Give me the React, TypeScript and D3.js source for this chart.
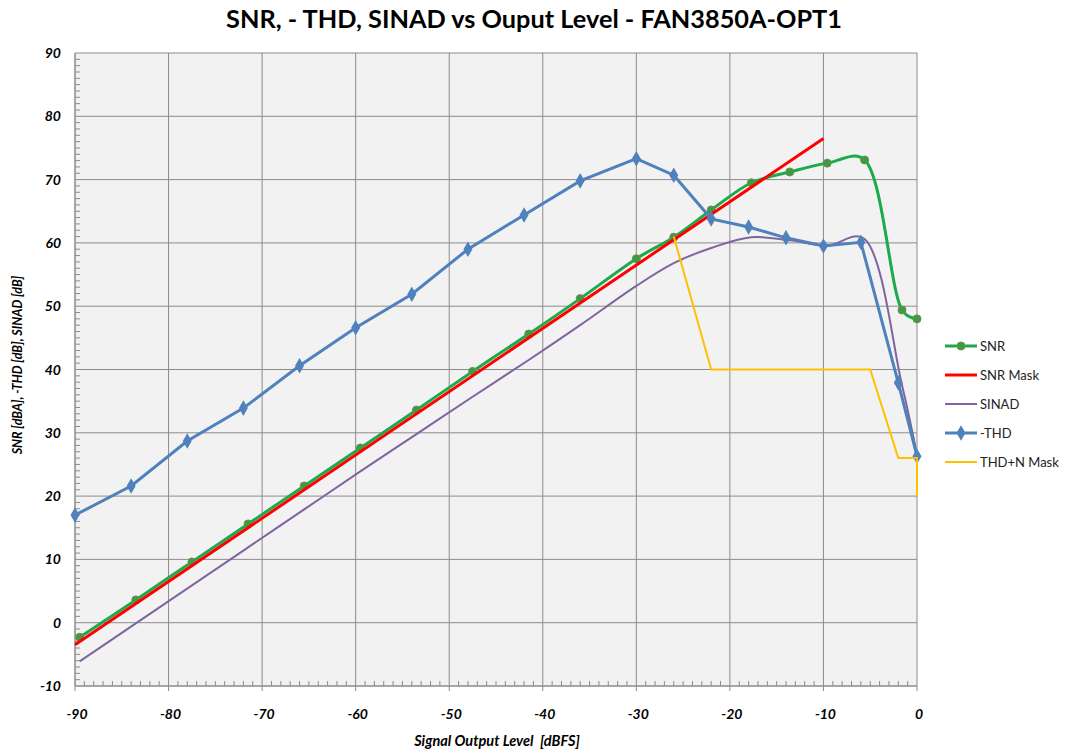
import React from "react";
import * as d3 from "d3";

// SNR (dBA) measured points
const snrX = [-89.5, -83.5, -77.5, -71.5, -65.5, -59.5, -53.5, -47.5, -41.5, -36, -30, -26, -22, -17.7, -13.6, -9.6, -5.6, -1.6, 0];
const snrY = [-2.3, 3.6, 9.6, 15.6, 21.6, 27.6, 33.6, 39.7, 45.6, 51.2, 57.5, 60.9, 65.2, 69.5, 71.2, 72.6, 73.1, 49.4, 48];

// SINAD, same x as SNR
const sinadY = [-6.1, -0.1, 5.9, 11.9, 17.9, 23.9, 29.8, 35.7, 41.5, 47, 53.2, 56.8, 59.2, 60.9, 60.4, 59.6, 60.6, 37.5, 26.5];

// -THD
const thdX = [-90, -84, -78, -72, -66, -60, -54, -48, -42, -36, -30, -26, -22, -18, -14, -10, -6, -2, 0];
const thdY = [17, 21.6, 28.7, 33.9, 40.6, 46.6, 51.9, 59, 64.4, 69.8, 73.3, 70.7, 63.8, 62.5, 60.8, 59.5, 60.1, 37.9, 26.3];

// SNR mask
const maskX = [-90, -10];
const maskY = [-3.5, 76.5];

// THD+N mask
const thdnX = [-26, -22, -5, -2, 0, 0];
const thdnY = [61, 40, 40, 26, 26, 20];

const xTicks = [-90, -80, -70, -60, -50, -40, -30, -20, -10, 0];
const yTicks = [-10, 0, 10, 20, 30, 40, 50, 60, 70, 80, 90];

const legendItems = [
  { name: "SNR", color: "#1BAA4C", marker: "circle", width: 3 },
  { name: "SNR Mask", color: "#FF0000", marker: "none", width: 3 },
  { name: "SINAD", color: "#8064A2", marker: "none", width: 2 },
  { name: "-THD", color: "#4F81BD", marker: "diamond", width: 3 },
  { name: "THD+N Mask", color: "#FFC000", marker: "none", width: 2 },
];

const W = 1070;
const H = 754;
const left = 75;
const top = 53;
const plotW = 842;
const plotH = 633;

const font = "Lato, 'Open Sans', sans-serif";

export default function App() {
  const x = d3.scaleLinear().domain([-90, 0]).range([left, left + plotW]);
  const y = d3.scaleLinear().domain([-10, 90]).range([top + plotH, top]);

  const pts = (xs: number[], ys: number[]) => xs.map((v, i) => [v, ys[i]] as [number, number]);

  // Excel-style smoothed line
  const smooth = d3
    .line<[number, number]>()
    .x((d) => x(d[0]))
    .y((d) => y(d[1]))
    .curve(d3.curveCatmullRom.alpha(0.4));
  const straight = d3
    .line<[number, number]>()
    .x((d) => x(d[0]))
    .y((d) => y(d[1]));

  const minorX = d3.range(-89, 0, 1).filter((v) => v % 10 !== 0);
  const minorY = d3.range(-9, 90, 1).filter((v) => v % 10 !== 0);

  const snr = pts(snrX, snrY);
  const sinad = pts(snrX, sinadY);
  const thd = pts(thdX, thdY);

  const diamond = d3.symbol(d3.symbolDiamond, 70)() as string;

  return (
    <svg width={W} height={H} style={{ position: "absolute", left: 0, top: 0, background: "#fff" }}>
      <text x={534} y={28} textAnchor="middle" fontFamily={font} fontWeight="bold" fontSize={25.3} fill="#000">
        SNR, - THD, SINAD vs Ouput Level - FAN3850A-OPT1
      </text>

      <rect x={left} y={top} width={plotW} height={plotH} fill="#F2F2F2" />

      {/* gridlines */}
      {xTicks.map((t) => (
        <line key={"gx" + t} x1={x(t)} x2={x(t)} y1={top} y2={top + plotH} stroke="#8C8C8C" strokeWidth={1} />
      ))}
      {yTicks.map((t) => (
        <line key={"gy" + t} x1={left} x2={left + plotW} y1={y(t)} y2={y(t)} stroke="#8C8C8C" strokeWidth={1} />
      ))}

      {/* minor ticks */}
      {minorY.map((t) => (
        <line key={"my" + t} x1={left} x2={left + 5} y1={y(t)} y2={y(t)} stroke="#8C8C8C" />
      ))}
      {minorX.map((t) => (
        <line key={"mx" + t} x1={x(t)} x2={x(t)} y1={top + plotH} y2={top + plotH - 5} stroke="#8C8C8C" />
      ))}
      {xTicks.map((t) => (
        <line key={"tx" + t} x1={x(t)} x2={x(t)} y1={top + plotH} y2={top + plotH + 5} stroke="#8C8C8C" />
      ))}
      <line x1={left} x2={left} y1={top} y2={top + plotH} stroke="#8C8C8C" />
      <line x1={left} x2={left + plotW} y1={top + plotH} y2={top + plotH} stroke="#8C8C8C" />

      {/* tick labels */}
      {yTicks.map((t) => (
        <text key={"ly" + t} x={61} y={y(t) + 5} textAnchor="end" fontFamily={font} fontWeight="bold" fontStyle="italic" fontSize={14} fill="#000">
          {t}
        </text>
      ))}
      {xTicks.map((t) => (
        <text key={"lx" + t} x={x(t) + 2} y={719} textAnchor="middle" fontFamily={font} fontWeight="bold" fontStyle="italic" fontSize={14} fill="#000">
          {t}
        </text>
      ))}

      <text x={497} y={746} textAnchor="middle" fontFamily={font} fontWeight="bold" fontStyle="italic" fontSize={14.5} fill="#000">
        Signal Output Level{"\u00a0\u00a0"}[dBFS]
      </text>
      <text
        transform={`translate(22,${365}) rotate(-90)`}
        textAnchor="middle"
        fontFamily={font}
        fontWeight="bold"
        fontStyle="italic"
        fontSize={12.5}
        fill="#000"
      >
        SNR [dBA], -THD [dB], SINAD [dB]
      </text>

      {/* series */}
      <path d={smooth(snr) as string} fill="none" stroke="#1BAA4C" strokeWidth={3} />
      {snr.map((d, i) => (
        <circle key={"sc" + i} cx={x(d[0])} cy={y(d[1])} r={4} fill="#3E9A45" stroke="#6E8F4A" strokeWidth={1} />
      ))}
      <path d={straight(pts(maskX, maskY)) as string} fill="none" stroke="#FF0000" strokeWidth={3} />
      <path d={smooth(sinad) as string} fill="none" stroke="#8064A2" strokeWidth={2} />
      <path d={straight(thd) as string} fill="none" stroke="#4F81BD" strokeWidth={3} />
      {thd.map((d, i) => (
        <path key={"td" + i} d={diamond} transform={`translate(${x(d[0])},${y(d[1])})`} fill="#4F81BD" />
      ))}
      <path d={straight(pts(thdnX, thdnY)) as string} fill="none" stroke="#FFC000" strokeWidth={2} />

      {/* legend */}
      {legendItems.map((it, i) => {
        const ly = 346 + i * 29;
        return (
          <g key={it.name}>
            <line x1={945} x2={977} y1={ly} y2={ly} stroke={it.color} strokeWidth={it.width} />
            {it.marker === "circle" && <circle cx={961} cy={ly} r={4} fill="#3E9A45" stroke="#6E8F4A" />}
            {it.marker === "diamond" && <path d={diamond} transform={`translate(961,${ly})`} fill="#4F81BD" />}
            <text x={980} y={ly + 5} fontFamily={font} fontSize={13} fill="#222">
              {it.name}
            </text>
          </g>
        );
      })}
    </svg>
  );
}
